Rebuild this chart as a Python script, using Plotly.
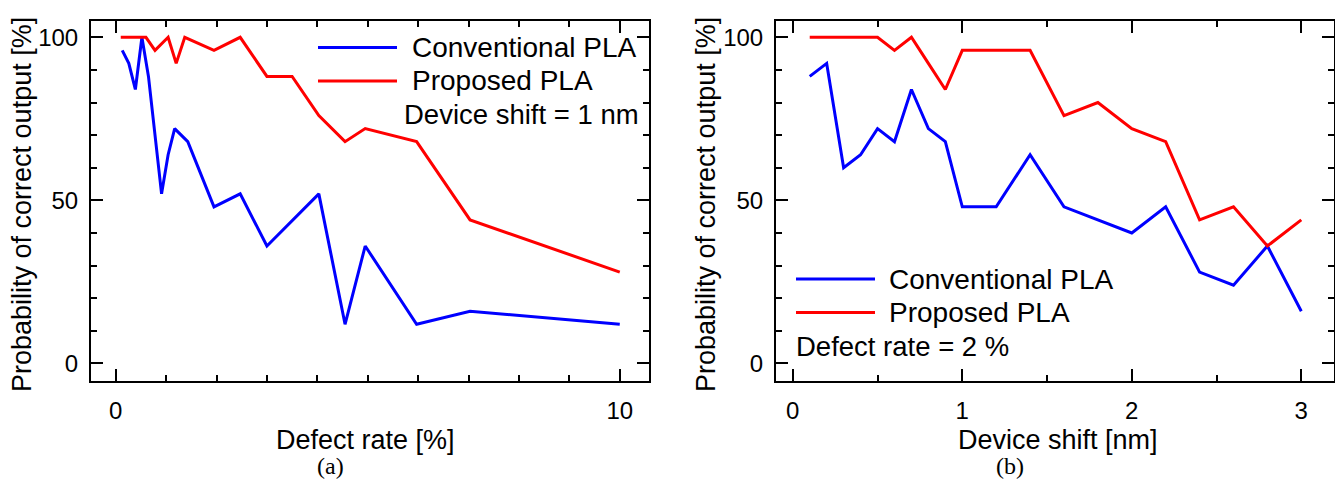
import plotly.graph_objects as go

# ---- Data: panel (a) defect rate sweep (device shift = 1 nm)
defect_rate_conv = [0.13, 0.26, 0.39, 0.52, 0.65, 0.91, 1.04, 1.17, 1.43, 1.95, 2.47, 3.0, 4.03, 4.55, 4.95, 5.97, 7.03, 10.0]
prob_conv_a = [96, 92, 84, 100, 88, 52, 64, 72, 68, 48, 52, 36, 52, 12, 36, 12, 16, 12]
defect_rate_prop = [0.1, 0.26, 0.39, 0.52, 0.6, 0.78, 1.04, 1.2, 1.37, 1.95, 2.47, 3.0, 3.5, 4.03, 4.55, 4.95, 5.97, 7.03, 10.0]
prob_prop_a = [100, 100, 100, 100, 100, 96, 100, 92, 100, 96, 100, 88, 88, 76, 68, 72, 68, 44, 28]

# ---- Data: panel (b) device shift sweep (defect rate = 2 %)
device_shift = [0.1, 0.2, 0.3, 0.4, 0.5, 0.6, 0.7, 0.8, 0.9, 1.0, 1.2, 1.4, 1.6, 1.8, 2.0, 2.2, 2.4, 2.6, 2.8, 3.0]
prob_conv_b = [88, 92, 60, 64, 72, 68, 84, 72, 68, 48, 48, 64, 48, 44, 40, 48, 28, 24, 36, 16]
prob_prop_b = [100, 100, 100, 100, 100, 96, 100, 92, 84, 96, 96, 96, 76, 80, 72, 68, 44, 48, 36, 44]

series_names = ["Conventional PLA", "Proposed PLA"]
x_ticks_a = [0, 10]
x_ticks_b = [0, 1, 2, 3]
y_ticks = [0, 50, 100]

BLUE = "#0000FF"
RED = "#FF0000"
FONT = "Liberation Sans"
W, H = 1335, 479

fig = go.Figure()
fig.add_trace(go.Scatter(x=defect_rate_conv, y=prob_conv_a, mode="lines", name=series_names[0],
                         line=dict(color=BLUE, width=3), xaxis="x", yaxis="y", showlegend=False))
fig.add_trace(go.Scatter(x=defect_rate_prop, y=prob_prop_a, mode="lines", name=series_names[1],
                         line=dict(color=RED, width=3), xaxis="x", yaxis="y", showlegend=False))
fig.add_trace(go.Scatter(x=device_shift, y=prob_conv_b, mode="lines", name=series_names[0],
                         line=dict(color=BLUE, width=3), xaxis="x2", yaxis="y2", showlegend=False))
fig.add_trace(go.Scatter(x=device_shift, y=prob_prop_b, mode="lines", name=series_names[1],
                         line=dict(color=RED, width=3), xaxis="x2", yaxis="y2", showlegend=False))

# plot-area pixel boxes
L1, R1 = 91, 649
L2, R2 = 776, 1333.5
TOP, BOT = 21, 381

def px(xp):
    return xp / W

def py(yp):
    return 1 - yp / H

common_axis = dict(showline=True, linecolor="black", linewidth=2, mirror="allticks",
                   ticks="inside", ticklen=12, tickwidth=1.5, tickcolor="black",
                   showgrid=False, zeroline=False,
                   tickfont=dict(family=FONT, size=24, color="black"))

fig.update_layout(
    width=W, height=H,
    margin=dict(l=0, r=0, t=0, b=0, pad=0),
    paper_bgcolor="white", plot_bgcolor="white",
    xaxis=dict(domain=[px(L1), px(R1)], range=[-0.49, 10.58], tickvals=x_ticks_a,
               minor=dict(dtick=1, tick0=0, ticks="inside", ticklen=6, tickwidth=1.5, tickcolor="black"),
               anchor="y", ticklabelstandoff=7, **common_axis),
    yaxis=dict(domain=[py(BOT), py(TOP)], range=[-5.4, 105], tickvals=y_ticks,
               minor=dict(dtick=10, tick0=0, ticks="inside", ticklen=6, tickwidth=1.5, tickcolor="black"),
               anchor="x", ticklabelstandoff=6, **common_axis),
    xaxis2=dict(domain=[px(L2), px(R2)], range=[-0.099, 3.19], tickvals=x_ticks_b,
                minor=dict(dtick=0.5, tick0=0, ticks="inside", ticklen=6, tickwidth=1.5, tickcolor="black"),
                anchor="y2", ticklabelstandoff=7, **common_axis),
    yaxis2=dict(domain=[py(BOT), py(TOP)], range=[-5.4, 105], tickvals=y_ticks,
                minor=dict(dtick=10, tick0=0, ticks="inside", ticklen=6, tickwidth=1.5, tickcolor="black"),
                anchor="x2", ticklabelstandoff=6, **common_axis),
)

annos = []
# axis titles
annos.append(dict(text="Probability of correct output [%]", x=px(22), y=py(205), xref="paper", yref="paper",
                  textangle=-90, showarrow=False, font=dict(family=FONT, size=27, color="black"),
                  xanchor="center", yanchor="middle"))
annos.append(dict(text="Probability of correct output [%]", x=px(706), y=py(205), xref="paper", yref="paper",
                  textangle=-90, showarrow=False, font=dict(family=FONT, size=27, color="black"),
                  xanchor="center", yanchor="middle"))
annos.append(dict(text="Defect rate [%]", x=px(365), y=py(440), xref="paper", yref="paper",
                  showarrow=False, font=dict(family=FONT, size=27, color="black"),
                  xanchor="center", yanchor="middle"))
annos.append(dict(text="Device shift [nm]", x=px(1058), y=py(440), xref="paper", yref="paper",
                  showarrow=False, font=dict(family=FONT, size=27, color="black"),
                  xanchor="center", yanchor="middle"))
# captions
annos.append(dict(text="(a)", x=px(330), y=py(466), xref="paper", yref="paper",
                  showarrow=False, font=dict(family="Liberation Serif", size=24, color="black"),
                  xanchor="center", yanchor="middle"))
annos.append(dict(text="(b)", x=px(1010), y=py(466), xref="paper", yref="paper",
                  showarrow=False, font=dict(family="Liberation Serif", size=24, color="black"),
                  xanchor="center", yanchor="middle"))

shapes = []
def legend_item(x0, x1, yc, color, label, tx):
    shapes.append(dict(type="line", xref="paper", yref="paper", x0=px(x0), x1=px(x1),
                       y0=py(yc), y1=py(yc), line=dict(color=color, width=3)))
    annos.append(dict(text=label, x=px(tx), y=py(yc), xref="paper", yref="paper", showarrow=False,
                      font=dict(family=FONT, size=28, color="black"), xanchor="left", yanchor="middle"))

# legend panel (a)
legend_item(318, 397, 47.5, BLUE, series_names[0], 410)
legend_item(318, 397, 81, RED, series_names[1], 410)
annos.append(dict(text="Device shift = 1 nm", x=px(402), y=py(115), xref="paper", yref="paper",
                  showarrow=False, font=dict(family=FONT, size=27.5, color="black"),
                  xanchor="left", yanchor="middle"))
# legend panel (b)
legend_item(796, 875, 279, BLUE, series_names[0], 887)
legend_item(796, 875, 312.5, RED, series_names[1], 887)
annos.append(dict(text="Defect rate = 2 %", x=px(794), y=py(346), xref="paper", yref="paper",
                  showarrow=False, font=dict(family=FONT, size=27.5, color="black"),
                  xanchor="left", yanchor="middle"))

fig.update_layout(annotations=annos, shapes=shapes)
fig.write_html("out.html", config={"displayModeBar": False},
               post_script="document.body.style.margin='0';document.body.style.overflow='hidden';")
